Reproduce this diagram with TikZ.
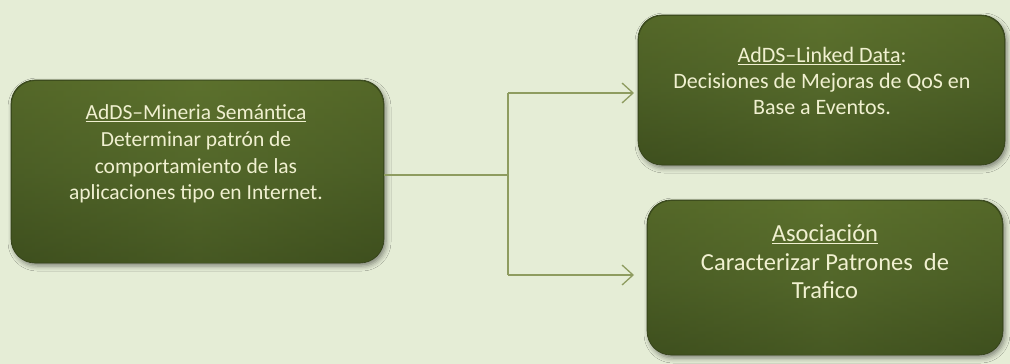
\documentclass[tikz,border=0pt]{standalone}
\usepackage{fontspec}
\setmainfont{Carlito}
\usetikzlibrary{arrows.meta,shadows.blur}
\definecolor{bgc}{HTML}{E5EDD6}
\definecolor{boxtop}{HTML}{62772F}
\definecolor{boxmid}{HTML}{53672A}
\definecolor{boxbot}{HTML}{3E4F1E}
\definecolor{boxedge}{HTML}{3F501E}
\definecolor{txtc}{HTML}{F0F0D0}
\definecolor{linec}{HTML}{8E9C60}
\tikzset{
  box/.style={rounded corners=24pt, left color=boxedge, right color=boxedge, middle color=boxmid,
    draw=boxbot!80!black, line width=0.6pt,
    blur shadow={shadow xshift=2pt, shadow yshift=-3pt, shadow blur radius=5pt, shadow opacity=45},
    inner sep=0pt},
  boxover/.style={rounded corners=24pt, top color=boxtop, bottom color=boxbot, middle color=boxmid,
    fill opacity=0.6, inner sep=0pt},
  txt/.style={text=txtc, align=center, inner sep=0pt},
  conn/.style={draw=linec, line width=1.5pt},
  arr/.style={conn, -{Straight Barb[length=11pt,width=20pt,line width=1.3pt]}},
}
\begin{document}
\begin{tikzpicture}[x=1pt,y=-1pt]
\fill[bgc] (0,0) rectangle (1010,364);
\useasboundingbox (0,0) rectangle (1010,364);
\node[box, minimum width=373pt, minimum height=183pt] (b1) at (197.5,171.5) {};
\node[boxover, minimum width=371pt, minimum height=181pt] (o1) at (b1) {};
\node[box, minimum width=367pt, minimum height=150pt] (b2) at (821.5,90) {};
\node[boxover, minimum width=365pt, minimum height=148pt] (o2) at (b2) {};
\node[box, minimum width=356pt, minimum height=155pt] (b3) at (825,277.5) {};
\node[boxover, minimum width=354pt, minimum height=153pt] (o3) at (b3) {};
\node[txt, font=\fontsize{21.5}{26.7}\selectfont] (t1) at (196,154)
  {\underline{AdDS–Mineria Semántica}\\Determinar patrón de\\comportamiento de las\\aplicaciones tipo en Internet.};
\node[txt, font=\fontsize{22}{26}\selectfont] (t2) at (822,81)
  {\underline{AdDS–Linked Data}:\\Decisiones de Mejoras de QoS en\\Base a Eventos.};
\node[txt, font=\fontsize{24.5}{28.5}\selectfont] (t3) at (825,262)
  {\underline{Asociación}\\Caracterizar Patrones\ \ de\\Trafico};
\coordinate (j) at (508,175);
\coordinate (a2) at (634,93);
\coordinate (a3) at (634,275);
\draw[conn] (b1.east |- j) -- (j);
\draw[conn] (j |- a2) -- (j |- a3);
\draw[arr] (j |- a2) -- (a2);
\draw[arr] (j |- a3) -- (a3);
\end{tikzpicture}
\end{document}
